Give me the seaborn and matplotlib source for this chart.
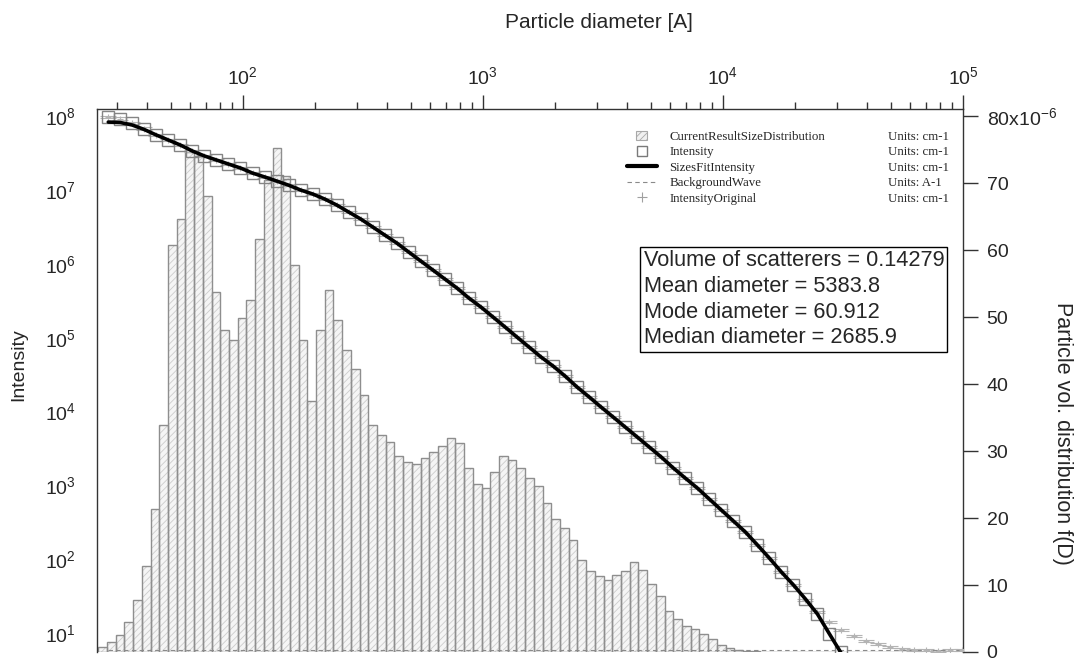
import numpy as np
import matplotlib
matplotlib.use("Agg")
import matplotlib.pyplot as plt
import seaborn as sns
from matplotlib.patches import Patch, Rectangle
from matplotlib.lines import Line2D
from matplotlib.legend_handler import HandlerPatch
from matplotlib.ticker import LogLocator, LogFormatterMathtext, NullFormatter


# Size distribution: log spaced diameter bins [A], volume distribution f(D)
d_min, d_max, n_bins = 25.0, 1.064e5, 100
vol_dist = [0.72, 1.49, 2.57, 4.48, 7.71, 12.9, 21.4, 33.9, 60.8, 64.7,
            74.6, 74.1, 68.0, 53.8, 48.1, 46.6, 49.9, 52.6, 61.6, 70.4,
            75.2, 71.0, 57.8, 46.6, 37.4, 48.1, 54.1, 49.6, 45.1, 42.2,
            38.4, 33.9, 32.4, 31.3, 29.3, 28.3, 28.0, 28.9, 29.9, 30.7,
            32.0, 31.2, 27.4, 25.1, 24.5, 26.8, 29.3, 28.7, 27.4, 26.0,
            24.8, 22.3, 19.9, 18.5, 16.7, 13.8, 12.1, 11.4, 10.8, 11.5,
            12.1, 13.5, 12.2, 10.2, 8.3, 6.1, 4.9, 3.9, 3.5, 2.7,
            1.9, 1.1, 0.6, 0.25, 0.15, 0.1, 0.06, 0.04, 0.02, 0.02,
            0.0, 0.0, 0.0, 0.0, 0.0, 0.0, 0.0, 0.0, 0.0, 0.0,
            0.0, 0.0, 0.0, 0.0, 0.0, 0.0, 0.0, 0.0, 0.0, 0.0]

# Scattering data: Q [A-1] and intensity [cm-1]
q_vals = [8.913e-5, 1.000e-4, 1.122e-4, 1.259e-4, 1.413e-4, 1.585e-4, 1.778e-4, 1.995e-4,
          2.239e-4, 2.512e-4, 2.818e-4, 3.162e-4, 3.548e-4, 3.981e-4, 4.467e-4, 5.012e-4,
          5.623e-4, 6.310e-4, 7.079e-4, 7.943e-4, 8.913e-4, 1.000e-3, 1.122e-3, 1.259e-3,
          1.413e-3, 1.585e-3, 1.778e-3, 1.995e-3, 2.239e-3, 2.512e-3, 2.818e-3, 3.162e-3,
          3.548e-3, 3.981e-3, 4.467e-3, 5.012e-3, 5.623e-3, 6.310e-3, 7.079e-3, 7.943e-3,
          8.913e-3, 1.000e-2, 1.122e-2, 1.259e-2, 1.413e-2, 1.585e-2, 1.778e-2, 1.995e-2,
          2.239e-2, 2.512e-2, 2.818e-2, 3.162e-2, 3.548e-2, 3.981e-2, 4.467e-2, 5.012e-2,
          5.623e-2, 6.310e-2, 7.079e-2, 7.943e-2, 8.913e-2, 1.000e-1, 1.122e-1, 1.259e-1,
          1.413e-1, 1.585e-1, 1.778e-1, 1.995e-1, 2.239e-1, 2.512e-1, 2.818e-1, 3.162e-1]

intensity = [9.69e7, 9.25e7, 8.04e7, 6.77e7, 5.53e7, 4.73e7, 4.05e7, 3.36e7,
             2.88e7, 2.54e7, 2.24e7, 1.98e7, 1.69e7, 1.50e7, 1.32e7, 1.16e7,
             9.97e6, 8.81e6, 7.53e6, 6.25e6, 5.02e6, 4.04e6, 3.15e6, 2.45e6,
             1.91e6, 1.44e6, 1.09e6, 8.25e5, 6.23e5, 4.71e5, 3.44e5, 2.60e5,
             1.91e5, 1.40e5, 1.02e5, 7.48e4, 5.48e4, 4.14e4, 3.03e4, 2.15e4,
             1.58e4, 1.15e4, 8.45e3, 6.19e3, 4.53e3, 3.32e3, 2.43e3, 1.73e3,
             1.26e3, 925, 656, 466, 331, 235, 157, 104,
             67.5, 45.1, 29.1, 18.2, 9.78, 5.58]

fit_intensity = [8.29e7, 8.17e7, 7.55e7, 6.56e7] + intensity[4:61] + [5.3]

orig_tail = [28.2, 19.4, 14.2, 11.1, 9.19, 7.86, 7.16, 6.53, 6.13, 5.94, 5.94, 5.75, 5.94, 5.94]
intensity_orig = intensity[:58] + orig_tail

background = 5.9

stats_text = ("Volume of scatterers = 0.14279\n"
              "Mean diameter = 5383.8\n"
              "Mode diameter = 60.912\n"
              "Median diameter = 2685.9")

legend_names = ["CurrentResultSizeDistribution", "Intensity", "SizesFitIntensity",
                "BackgroundWave", "IntensityOriginal"]
legend_units = ["Units: cm-1", "Units: cm-1", "Units: cm-1", "Units: A-1", "Units: cm-1"]


sns.set_style("white")
plt.rcParams["font.family"] = ["Liberation Sans", "DejaVu Sans"]
plt.rcParams["mathtext.fontset"] = "custom"
plt.rcParams["mathtext.rm"] = "Liberation Sans"
plt.rcParams["mathtext.it"] = "Liberation Sans:italic"
plt.rcParams["mathtext.bf"] = "Liberation Sans:bold"
plt.rcParams["hatch.linewidth"] = 0.6

W, H = 1080, 659
fig = plt.figure(figsize=(W / 100, H / 100), dpi=100)
L, R, T, B = 97, 963, 109, 652
rect = [L / W, 1 - B / H, (R - L) / W, (B - T) / H]
ax_d = fig.add_axes(rect)                 # diameter (top) / f(D) (right)
ax_q = fig.add_axes(rect)                 # Q (hidden bottom) / intensity (left)
ax_q.patch.set_alpha(0)

axis_col = "#333333"

# ---- size distribution bars
edges = np.geomspace(d_min, d_max, n_bins + 1)
heights = np.array(vol_dist) * 1e-6
ax_d.bar(edges[:-1], heights, width=np.diff(edges), align="edge",
         facecolor="#f5f5f5", edgecolor="#cccccc", hatch="/////", linewidth=0)
ax_d.bar(edges[:-1], heights, width=np.diff(edges), align="edge",
         fill=False, edgecolor="#8e8e8e", linewidth=1.0)
ax_d.set_xscale("log")
ax_d.set_xlim(24.7, 1.0e5)
ax_d.set_ylim(0, 81.05e-6)
ax_d.xaxis.tick_top()
ax_d.yaxis.tick_right()
ax_d.xaxis.set_major_locator(LogLocator(base=10, numticks=20))
ax_d.xaxis.set_major_formatter(LogFormatterMathtext())
ax_d.xaxis.set_minor_locator(LogLocator(base=10, subs=np.arange(2, 10), numticks=20))
ax_d.xaxis.set_minor_formatter(NullFormatter())
yt = np.arange(0, 81, 10)
ax_d.set_yticks(yt * 1e-6)
ax_d.set_yticklabels([str(v) for v in yt[:-1]] + [r"80x10$^{\mathregular{-6}}$"])
ax_d.tick_params(axis="x", which="major", direction="out", length=10, width=1,
                 pad=5, labelsize=14, color=axis_col)
ax_d.tick_params(axis="x", which="minor", direction="out", length=5, width=1, color=axis_col)
ax_d.tick_params(axis="y", which="major", direction="out", length=11, width=1,
                 pad=6, labelsize=14, color=axis_col)
for s in ["left", "bottom"]:
    ax_d.spines[s].set_visible(False)
for s in ["top", "right"]:
    ax_d.spines[s].set_color(axis_col)
    ax_d.spines[s].set_linewidth(1)

# ---- scattering data
ax_q.set_xscale("log")
ax_q.set_yscale("log")
ax_q.errorbar(q_vals[:len(intensity_orig)], intensity_orig,
              yerr=0.04 * np.array(intensity_orig), fmt="+", color="#b4b4b4",
              ms=5, mew=0.8, elinewidth=0.8, capsize=5.5, zorder=2)
ax_q.plot(q_vals[:len(intensity)], intensity, ls="none", marker="s", ms=8.6,
          mfc="none", mec="#848484", mew=1.0, zorder=3)
sns.lineplot(x=q_vals[:len(fit_intensity)], y=fit_intensity, ax=ax_q, color="black",
             lw=2.6, estimator=None, sort=False, zorder=4)
sns.lineplot(x=[q_vals[0], q_vals[-1]], y=[background, background], ax=ax_q,
             color="#8a8a8a", lw=0.8, ls=(0, (4, 3)), estimator=None, zorder=2)
ax_q.set_xlim(8e-5, 0.3202)
ax_q.set_ylim(5.58, 1.245e8)
ax_q.xaxis.set_visible(False)
ax_q.yaxis.set_major_locator(LogLocator(base=10, numticks=20))
ax_q.yaxis.set_major_formatter(LogFormatterMathtext())
ax_q.yaxis.set_minor_locator(LogLocator(base=10, subs=np.arange(2, 10), numticks=20))
ax_q.yaxis.set_minor_formatter(NullFormatter())
ax_q.tick_params(axis="y", which="major", direction="out", length=10, width=1,
                 pad=5, labelsize=14, color=axis_col)
ax_q.tick_params(axis="y", which="minor", direction="out", length=5.5, width=1, color=axis_col)
for s in ["top", "right", "bottom"]:
    ax_q.spines[s].set_visible(False)
ax_q.spines["left"].set_color(axis_col)
ax_q.spines["left"].set_linewidth(1)
ax_q.set_ylabel("")
ax_q.set_xlabel("")

# ---- axis titles
fig.text(599 / W, 1 - 22 / H, "Particle diameter [A]", ha="center", va="center", fontsize=15)
fig.text(19 / W, 1 - 365 / H, "Intensity", ha="center", va="center", rotation=90, fontsize=14)
fig.text(1062 / W, 1 - 433 / H, "Particle vol. distribution f(D)", ha="center", va="center",
         rotation=270, fontsize=15.5)


# ---- legend
def small_box(legend, orig_handle, xdescent, ydescent, width, height, fontsize):
    w, h = 8.0, 6.5
    return Rectangle((-xdescent + (width - w) / 2, -ydescent + (height - h) / 2), w, h)


handles = [Patch(facecolor="#f0f0f0", edgecolor="#a8a8a8", hatch="/////", linewidth=0.8),
           Line2D([], [], ls="none", marker="s", ms=6.5, mfc="none", mec="#7a7a7a", mew=1.0),
           Line2D([], [], color="black", lw=3),
           Line2D([], [], color="#8a8a8a", lw=0.8, ls=(0, (4, 3))),
           Line2D([], [], ls="none", marker="+", ms=7, color="#a0a0a0", mew=0.8)]
legend_font = {"family": ["Liberation Serif"], "size": 9.3}
leg1 = ax_q.legend(handles, legend_names, loc="upper left",
                   bbox_to_anchor=(627 / W, 1 - 130.5 / H), bbox_transform=fig.transFigure,
                   frameon=False, prop=legend_font, handlelength=2.3, handletextpad=1.0,
                   labelspacing=0.27, borderpad=0, borderaxespad=0,
                   handler_map={Patch: HandlerPatch(patch_func=small_box)})
ax_q.add_artist(leg1)
blank = [Line2D([], [], ls="none") for _ in legend_units]
ax_q.legend(blank, legend_units, loc="upper left",
            bbox_to_anchor=(888 / W, 1 - 130.5 / H), bbox_transform=fig.transFigure,
            frameon=False, prop=legend_font, handlelength=0, handletextpad=0,
            labelspacing=0.27, borderpad=0, borderaxespad=0)

# ---- statistics box
fig.text(643.5 / W, 1 - 250.5 / H, stats_text, ha="left", va="top", fontsize=15.7,
         linespacing=1.29,
         bbox=dict(boxstyle="square,pad=0.15", facecolor="white", edgecolor="black", linewidth=1))

fig.savefig("out.png", dpi=100)
